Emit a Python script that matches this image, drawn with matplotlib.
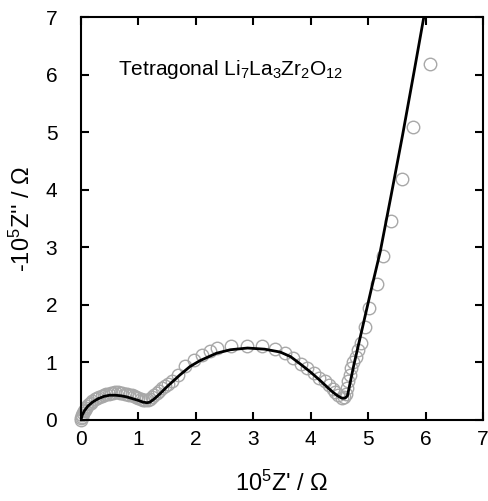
import matplotlib
matplotlib.use("Agg")
import matplotlib.pyplot as plt

plt.rcParams['font.family'] = ['Liberation Sans', 'DejaVu Sans']
plt.rcParams['mathtext.fontset'] = 'custom'
plt.rcParams['mathtext.rm'] = 'Liberation Sans'
plt.rcParams['mathtext.it'] = 'Liberation Sans:italic'

# Experimental data (open circles)
exp_x = [0.00, 0.00, 0.01, 0.02, 0.03, 0.05, 0.07, 0.09, 0.11, 0.14, 0.17, 0.20, 0.24, 0.28,
         0.32, 0.36, 0.40, 0.44, 0.48, 0.52, 0.56, 0.60, 0.64, 0.68, 0.72, 0.76, 0.80, 0.84,
         0.88, 0.92, 0.96, 1.00, 1.04, 1.08, 1.12, 1.16, 1.20, 1.24, 1.28, 1.32, 1.36, 1.41,
         1.46, 1.52, 1.58, 1.69, 1.81, 1.96, 2.10, 2.25, 2.36, 2.62, 2.89, 3.15, 3.38, 3.55,
         3.70, 3.83, 3.93, 4.05, 4.15, 4.25, 4.32, 4.38, 4.42, 4.48, 4.54, 4.58, 4.61, 4.63,
         4.65, 4.68, 4.71, 4.74, 4.79, 4.83, 4.87, 4.95, 5.02, 5.15, 5.26, 5.40, 5.59, 5.79,
         6.07]
exp_y = [0.00, 0.03, 0.06, 0.09, 0.12, 0.15, 0.18, 0.21, 0.24, 0.27, 0.30, 0.33, 0.36, 0.38,
         0.40, 0.42, 0.44, 0.45, 0.46, 0.47, 0.47, 0.48, 0.48, 0.47, 0.47, 0.46, 0.45, 0.44,
         0.43, 0.41, 0.40, 0.38, 0.37, 0.35, 0.35, 0.35, 0.37, 0.40, 0.43, 0.47, 0.51, 0.55,
         0.59, 0.63, 0.67, 0.79, 0.93, 1.04, 1.13, 1.20, 1.25, 1.28, 1.28, 1.28, 1.24, 1.16,
         1.07, 0.98, 0.90, 0.81, 0.73, 0.67, 0.60, 0.54, 0.48, 0.43, 0.39, 0.40, 0.45, 0.55,
         0.67, 0.78, 0.90, 1.01, 1.10, 1.22, 1.33, 1.61, 1.94, 2.37, 2.85, 3.46, 4.19, 5.09,
         6.19]

# Fitted curve (solid line)
fit_x = [0.0, 0.02, 0.06, 0.12, 0.20, 0.30, 0.40, 0.50, 0.60, 0.70, 0.80, 0.90, 1.00, 1.08,
         1.15, 1.20, 1.28, 1.38, 1.50, 1.72, 1.90, 2.07, 2.36, 2.60, 2.90, 3.20, 3.47, 3.65,
         3.81, 4.00, 4.16, 4.30, 4.39, 4.47, 4.54, 4.60, 4.64, 4.75, 4.90, 5.05, 5.21, 5.40,
         5.60, 5.80, 5.97, 6.00]
fit_y = [0.0, 0.08, 0.16, 0.24, 0.31, 0.37, 0.41, 0.43, 0.43, 0.42, 0.40, 0.37, 0.34, 0.31,
         0.30, 0.31, 0.37, 0.46, 0.58, 0.78, 0.93, 1.03, 1.16, 1.22, 1.25, 1.23, 1.18, 1.10,
         0.98, 0.83, 0.69, 0.56, 0.48, 0.42, 0.38, 0.38, 0.42, 0.95, 1.60, 2.25, 2.92, 3.90,
         4.95, 6.05, 7.00, 7.15]

x_ticks = [0, 1, 2, 3, 4, 5, 6, 7]
y_ticks = [0, 1, 2, 3, 4, 5, 6, 7]

fig = plt.figure(figsize=(4.89, 5.01), dpi=100)
ax = fig.add_axes([0.1656, 0.1617, 0.8221, 0.8043])

ax.plot(exp_x, exp_y, linestyle='none', marker='o', markersize=9,
        markerfacecolor='none', markeredgecolor='#a8a8a8', markeredgewidth=1.0, clip_on=False, zorder=2)
ax.plot(fit_x, fit_y, color='black', linewidth=2.0, zorder=3)

ax.set_xlim(0, 7)
ax.set_ylim(0, 7)
ax.set_xticks(x_ticks)
ax.set_yticks(y_ticks)
ax.tick_params(direction='in', length=6, width=1.5, top=True, right=True, labelsize=15)
ax.tick_params(axis='x', pad=7)
ax.tick_params(axis='y', pad=17)
for s in ax.spines.values():
    s.set_linewidth(1.5)

ax.set_xlabel("10$\\mathregular{^5}$Z' / \u03a9", fontsize=17, labelpad=16)
ax.set_ylabel("-10$\\mathregular{^5}$Z'' / \u03a9", fontsize=17, labelpad=8)

ax.text(0.64, 6.08, "Tetragonal Li$\\mathregular{_7}$La$\\mathregular{_3}$Zr$\\mathregular{_2}$O$\\mathregular{_{12}}$",
        fontsize=15, ha='left', va='center')

fig.savefig("out.png", dpi=100)
